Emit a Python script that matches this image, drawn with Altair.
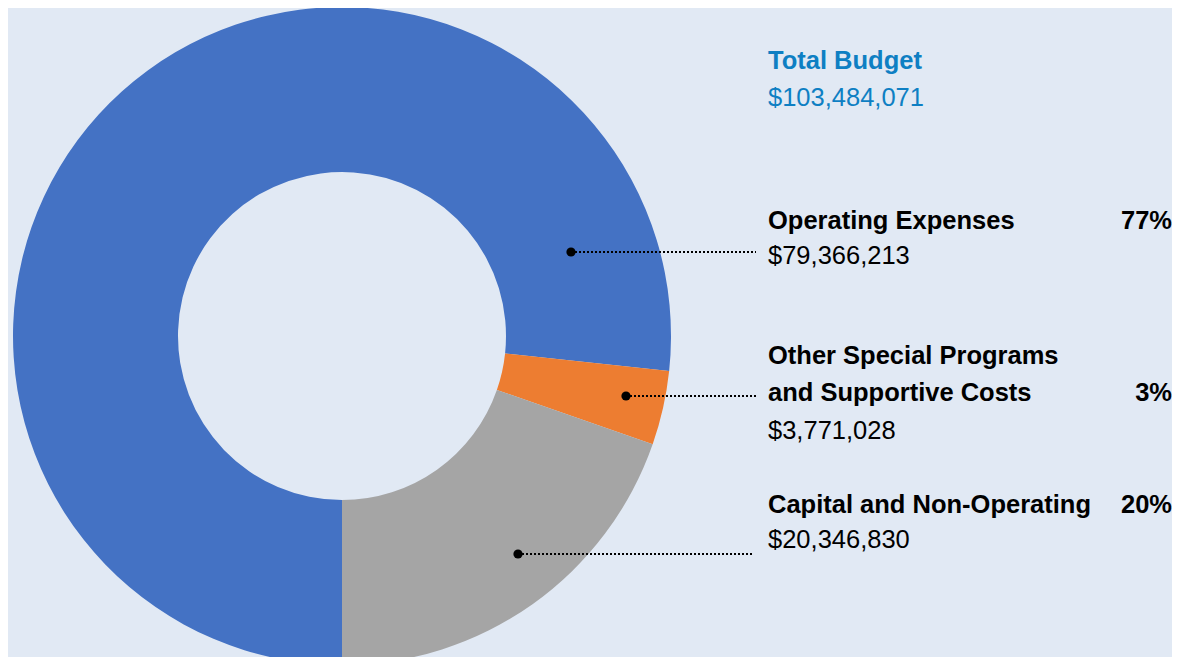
import math
import altair as alt
import pandas as pd

# ---- data ----
categories = ["Operating Expenses", "Other Special Programs and Supportive Costs", "Capital and Non-Operating"]
values = [79366213, 3771028, 20346830]
colors = ["#4472C4", "#ED7D31", "#A5A5A5"]
name_lines = [["Operating Expenses"], ["Other Special Programs", "and Supportive Costs"], ["Capital and Non-Operating"]]
pct_labels = ["77%", "3%", "20%"]
amount_labels = ["$79,366,213", "$3,771,028", "$20,346,830"]
total_title = "Total Budget"
total_label = "$103,484,071"

# ---- layout (chart coordinates = page - 8) ----
OFF = 8
CX, CY = 342 - OFF, 336 - OFF
R_OUT, R_IN = 329, 164
TXT_X = 768 - OFF
PCT_X = 1172 - OFF
FS = 25.5
FONT = "Liberation Sans"
BG = "#E1E9F4"
TITLE_COLOR = "#0E7FC3"

total = sum(values)

donut_df = pd.DataFrame({"cat": categories, "value": values, "idx": list(range(len(values)))})

donut = alt.Chart(donut_df).mark_arc(innerRadius=R_IN, outerRadius=R_OUT, stroke=None).encode(
    theta=alt.Theta("value:Q", stack=True,
                    scale=alt.Scale(domain=[0, total], range=[math.pi, 3 * math.pi], nice=False, zero=True)),
    color=alt.Color("cat:N", scale=alt.Scale(domain=categories, range=colors), legend=None),
    order=alt.Order("idx:Q"),
    x=alt.value(CX),
    y=alt.value(CY),
)

# label layout
name_baselines = [[229], [364, 401], [513]]
amount_baselines = [264, 439, 548]
pct_baselines = [229, 401, 513]
leader_y = [252, 396, 554]
dot_x = [571, 626, 518]
line_end_x = [756, 757, 754]

bold_rows, reg_rows, pct_rows = [], [], []
for i in range(len(categories)):
    for line, yb in zip(name_lines[i], name_baselines[i]):
        bold_rows.append({"t": line, "x": TXT_X, "y": yb - OFF, "c": "#000000"})
    reg_rows.append({"t": amount_labels[i], "x": TXT_X, "y": amount_baselines[i] - OFF, "c": "#000000"})
    pct_rows.append({"t": pct_labels[i], "x": PCT_X, "y": pct_baselines[i] - OFF, "c": "#000000"})
bold_rows.append({"t": total_title, "x": TXT_X, "y": 69 - OFF, "c": TITLE_COLOR})
reg_rows.append({"t": total_label, "x": TXT_X, "y": 106 - OFF, "c": TITLE_COLOR})


def text_layer(rows, weight, align):
    return alt.Chart(pd.DataFrame(rows)).mark_text(
        font=FONT, fontSize=FS, fontWeight=weight, align=align, baseline="alphabetic"
    ).encode(
        x=alt.X("x:Q", scale=None, axis=None),
        y=alt.Y("y:Q", scale=None, axis=None),
        text="t:N",
        color=alt.Color("c:N", scale=None),
    )


leader_df = pd.DataFrame({
    "x": [d - OFF for d in dot_x],
    "x2": [e - OFF for e in line_end_x],
    "y": [y - OFF for y in leader_y],
})

leaders = alt.Chart(leader_df).mark_rule(color="#000000", strokeWidth=2, strokeDash=[2, 2]).encode(
    x=alt.X("x:Q", scale=None, axis=None),
    x2="x2:Q",
    y=alt.Y("y:Q", scale=None, axis=None),
)
dots = alt.Chart(leader_df).mark_point(filled=True, color="#000000", size=85, opacity=1, shape="circle").encode(
    x=alt.X("x:Q", scale=None, axis=None),
    y=alt.Y("y:Q", scale=None, axis=None),
)

chart = alt.layer(
    donut,
    leaders,
    dots,
    text_layer(bold_rows, "bold", "left"),
    text_layer(reg_rows, "normal", "left"),
    text_layer(pct_rows, "bold", "right"),
).properties(
    width=1164, height=649, padding=0, autosize=alt.AutoSizeParams(type="none"), background=BG
).configure_view(stroke=None, fill=BG)

chart.save("out.html", embed_options={"renderer": "svg", "actions": False})
